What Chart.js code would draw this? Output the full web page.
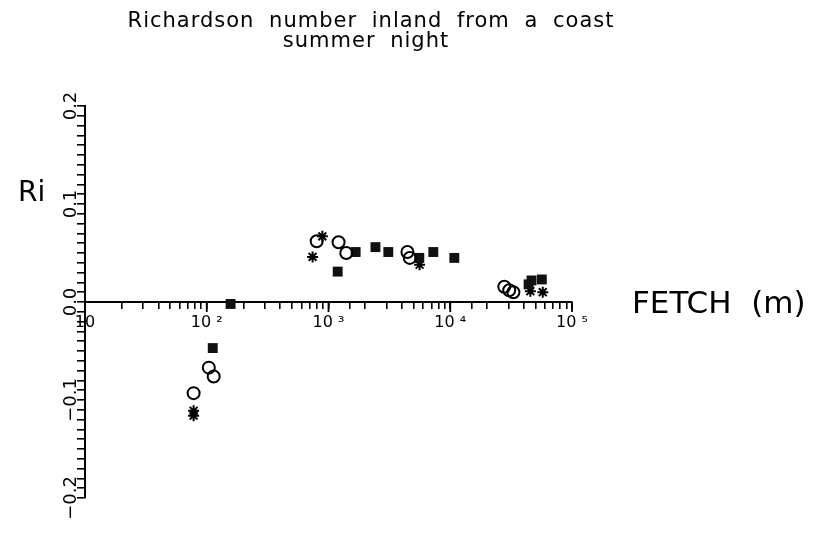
<!DOCTYPE html>
<html>
<head>
<meta charset="utf-8">
<script src="https://cdn.jsdelivr.net/npm/chart.js@4.4.1/dist/chart.umd.min.js"></script>
<style>
  html, body { margin: 0; padding: 0; background: #fff; }
  #wrap { width: 816px; height: 533px; }
</style>
</head>
<body>
<div id="wrap"><canvas id="riChart" width="816" height="533"></canvas></div>
<script>
// --- DATA ---
const fetchCircles = [78, 104, 114, 800, 1210, 1400, 4450, 4650, 27800, 30500, 33000];
const riCircles    = [-0.093, -0.067, -0.076, 0.062, 0.061, 0.050, 0.051, 0.045, 0.0155, 0.012, 0.010];

const fetchSquares = [112, 157, 1190, 1670, 2430, 3100, 5570, 7260, 10800, 44000, 46500, 56500];
const riSquares    = [-0.047, -0.002, 0.031, 0.051, 0.056, 0.051, 0.045, 0.051, 0.045, 0.018, 0.022, 0.023];

const fetchStars = [78, 78, 740, 890, 5600, 45500, 57500];
const riStars    = [-0.111, -0.116, 0.046, 0.067, 0.038, 0.011, 0.010];

const xDecades      = [10, 100, 1000, 10000, 100000];
const xDecadeLabels = ['10', '10 ²', '10 ³', '10 ⁴', '10 ⁵'];
const yLabelValues  = [-0.2, -0.1, 0.0, 0.1, 0.2];
const yLabels       = ['−0.2', '−0.1', '0.0', '0.1', '0.2'];

const titleLines = ['Richardson number inland from a coast', 'summer night'];
const xTitle = 'FETCH  (m)';
const yTitle = 'Ri';

const FONT = '"DejaVu Sans", sans-serif';

const toPoints = (xs, ys) => xs.map((x, i) => ({ x: x, y: ys[i] }));

// --- text + long decade ticks, placed with the chart's own scales ---
const paperText = {
    id: 'paperText',
    afterDraw(chart) {
        const ctx = chart.ctx;
        const xs = chart.scales.x;
        const ys = chart.scales.y;
        ctx.save();
        ctx.fillStyle = '#000';
        ctx.strokeStyle = '#000';

        // decade ticks are longer than the minor ones
        ctx.lineWidth = 1.8;
        const y0 = ys.getPixelForValue(0);
        xDecades.forEach(v => {
            const px = xs.getPixelForValue(v);
            ctx.beginPath();
            ctx.moveTo(px, y0);
            ctx.lineTo(px, y0 + 10);
            ctx.stroke();
        });

        // y tick labels, rotated like the original
        const x0 = xs.getPixelForValue(10);
        ctx.font = '18px ' + FONT;
        ctx.textAlign = 'center';
        ctx.textBaseline = 'middle';
        yLabelValues.forEach((v, i) => {
            ctx.save();
            ctx.translate(x0 - 14, ys.getPixelForValue(v));
            ctx.rotate(-Math.PI / 2);
            ctx.fillText(yLabels[i], 0, 0);
            ctx.restore();
        });

        // title
        ctx.textBaseline = 'alphabetic';
        ctx.letterSpacing = '1px';
        ctx.wordSpacing = '7px';
        ctx.font = '21px ' + FONT;
        ctx.fillText(titleLines[0], 371, 27);
        ctx.fillText(titleLines[1], 366, 47);
        ctx.letterSpacing = '0px';
        ctx.wordSpacing = '0px';

        // axis titles
        ctx.textAlign = 'left';
        ctx.font = '28px ' + FONT;
        ctx.fillText(yTitle, 18, 201);
        ctx.font = '31px ' + FONT;
        ctx.fillText(xTitle, 632, 313);
        ctx.restore();
    }
};

const ctxRi = document.getElementById('riChart').getContext('2d');
new Chart(ctxRi, {
    type: 'scatter',
    data: {
        datasets: [
            {
                label: 'circles',
                data: toPoints(fetchCircles, riCircles),
                pointStyle: 'circle',
                pointRadius: 6,
                pointBorderWidth: 2,
                pointBackgroundColor: 'rgba(0,0,0,0)',
                pointBorderColor: '#000'
            },
            {
                label: 'squares',
                data: toPoints(fetchSquares, riSquares),
                pointStyle: 'rect',
                pointRadius: 7,
                pointBorderWidth: 0,
                pointBackgroundColor: '#111',
                pointBorderColor: '#111'
            },
            {
                label: 'stars',
                data: toPoints(fetchStars, riStars),
                pointStyle: 'star',
                pointRadius: 5.5,
                pointBorderWidth: 2,
                pointBorderColor: '#000'
            }
        ]
    },
    options: {
        responsive: false,
        animation: false,
        events: [],
        layout: { padding: { left: 85, right: 244, top: 106, bottom: 35 } },
        plugins: {
            legend: { display: false },
            tooltip: { enabled: false },
            title: { display: false }
        },
        scales: {
            x: {
                type: 'logarithmic',
                min: 10,
                max: 100000,
                position: { y: 0 },
                border: { display: true, color: '#000', width: 2 },
                grid: { display: true, drawOnChartArea: false, drawTicks: true, tickLength: 6, color: '#000', lineWidth: 1.6 },
                ticks: {
                    autoSkip: false,
                    maxRotation: 0,
                    minRotation: 0,
                    padding: 5,
                    color: '#000',
                    font: { family: FONT, size: 16 },
                    callback: (value) => {
                        const i = xDecades.indexOf(Number(value));
                        return i >= 0 ? xDecadeLabels[i] : '';
                    }
                }
            },
            y: {
                type: 'linear',
                min: -0.2,
                max: 0.2,
                position: { x: 10 },
                border: { display: true, color: '#000', width: 2 },
                grid: { display: true, drawOnChartArea: false, drawTicks: true, tickLength: 7, color: '#000', lineWidth: 1.6 },
                ticks: { display: false, stepSize: 0.01 }
            }
        }
    },
    plugins: [paperText]
});
</script>
</body>
</html>
